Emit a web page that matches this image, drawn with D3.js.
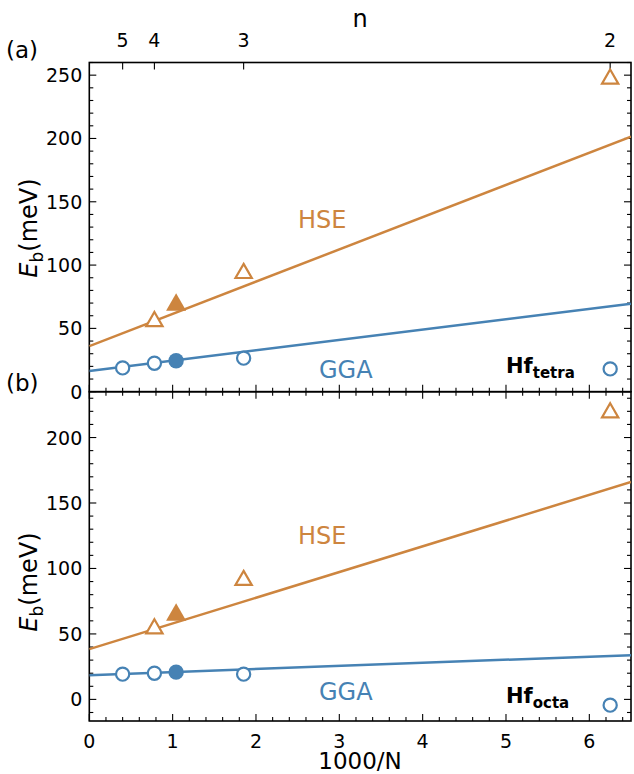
<!DOCTYPE html>
<html><head><meta charset="utf-8">
<script src="https://cdn.jsdelivr.net/npm/d3@7"></script>
<style>body{margin:0;background:#fff}svg{display:block}text{font-family:"DejaVu Sans",sans-serif}</style>
</head><body>
<svg id="c" width="634" height="774"></svg>
<script>
// ---- data ----
const nLabels = ["5","4","3","2"];
const nPos = [0.4, 0.78125, 1.85185, 6.25];
const xOpen = [0.4, 0.78125, 1.85185, 6.25];
const xFilled = [1.0417];
// panel (a) Hf_tetra
const ggaA = [18.8, 22.5, 26.5, 18.0];
const ggaAFilled = [24.4];
const hseA = [55.5, 93.5, 247.0];
const hseAx = [0.78125, 1.85185, 6.25];
const hseAFilled = [68.5];
const ggaFitA = [16.4, 69.4];   // at x = 0 and 6.5
const hseFitA = [36.0, 201.5];
// panel (b) Hf_octa
const ggaB = [19.3, 20.0, 19.3, -4.4];
const ggaBFilled = [20.8];
const hseB = [54.0, 91.0, 219.0];
const hseBx = [0.78125, 1.85185, 6.25];
const hseBFilled = [64.5];
const ggaFitB = [18.5, 33.8];
const hseFitB = [38.4, 166.0];
const fitX = [0, 6.5];
const xTicks = [0,1,2,3,4,5,6];
const yTicksA = [0,50,100,150,200,250];
const yTicksB = [0,50,100,150,200];

const ORANGE = "#cd853f", BLUE = "#4682b4";
const svg = d3.select("#c");
const L = 89.3, R = 631;
const x = d3.scaleLinear().domain([0, 6.5]).range([L, R]);
const yA = d3.scaleLinear().domain([0, 260]).range([391.7, 62.5]);
const yB = d3.scaleLinear().domain([-16.5, 235]).range([721, 391.7]);

function panel(y, yTicks, opts) {
  const g = svg.append("g");
  const [y0, y1] = y.range(); // bottom, top
  const minorY = d3.range(Math.ceil(y.domain()[0]/10)*10, y.domain()[1]+0.01, 10);
  const minorX = d3.range(0, 6.5001, 0.2).map(v => +v.toFixed(2));
  const tk = g.append("g").attr("stroke", "#000");
  minorY.forEach(v => {
    const major = v % 50 === 0;
    const len = major ? 7 : 4;
    tk.append("line").attr("x1", L).attr("x2", L + len).attr("y1", y(v)).attr("y2", y(v)).attr("stroke-width", 1.1);
    tk.append("line").attr("x1", R).attr("x2", R - len).attr("y1", y(v)).attr("y2", y(v)).attr("stroke-width", 1.1);
  });
  minorX.forEach(v => {
    const major = Math.abs(v - Math.round(v)) < 1e-6;
    const len = major ? 7 : 4;
    tk.append("line").attr("x1", x(v)).attr("x2", x(v)).attr("y1", y0).attr("y2", y0 - len).attr("stroke-width", 1.1);
    if (opts.topMinor) tk.append("line").attr("x1", x(v)).attr("x2", x(v)).attr("y1", y1).attr("y2", y1 + len).attr("stroke-width", 1.1);
  });
  if (opts.topN) {
    nPos.forEach(v => tk.append("line").attr("x1", x(v)).attr("x2", x(v)).attr("y1", y1).attr("y2", y1 + 7).attr("stroke-width", 1.1));
    nLabels.forEach((t, i) => g.append("text").attr("x", x(nPos[i])).attr("y", 47).attr("text-anchor", "middle").attr("font-size", 19).text(t));
  }
  yTicks.forEach(v => g.append("text").attr("x", L - 7).attr("y", y(v) + 7).attr("text-anchor", "end").attr("font-size", 19).text(v));
  g.append("rect").attr("x", L).attr("y", y1).attr("width", R - L).attr("height", y0 - y1)
    .attr("fill", "none").attr("stroke", "#000").attr("stroke-width", 1.6);
  const cid = "clip" + opts.id;
  svg.append("clipPath").attr("id", cid).append("rect").attr("x", L).attr("y", y1).attr("width", R - L).attr("height", y0 - y1);
  const pg = g.append("g").attr("clip-path", `url(#${cid})`);
  const line = d3.line().x(d => x(d[0])).y(d => y(d[1]));
  pg.append("path").attr("d", line(fitX.map((v, i) => [v, opts.hseFit[i]]))).attr("stroke", ORANGE).attr("stroke-width", 2.5).attr("fill", "none");
  pg.append("path").attr("d", line(fitX.map((v, i) => [v, opts.ggaFit[i]]))).attr("stroke", BLUE).attr("stroke-width", 2.5).attr("fill", "none");
  const tri = d3.symbol().type(d3.symbolTriangle);
  opts.gga.forEach((v, i) => pg.append("circle").attr("cx", x(xOpen[i])).attr("cy", y(v)).attr("r", 6.6).attr("fill", "#fff").attr("stroke", BLUE).attr("stroke-width", 2.2));
  opts.ggaF.forEach((v, i) => pg.append("circle").attr("cx", x(xFilled[i])).attr("cy", y(v)).attr("r", 7.7).attr("fill", BLUE));
  opts.hse.forEach((v, i) => pg.append("path").attr("d", tri.size(115)()).attr("transform", `translate(${x(opts.hseX[i])},${y(v)})`).attr("fill", "#fff").attr("stroke", ORANGE).attr("stroke-width", 2.2));
  opts.hseF.forEach((v, i) => pg.append("path").attr("d", tri.size(175)()).attr("transform", `translate(${x(xFilled[i])},${y(v)})`).attr("fill", ORANGE));
  g.append("text").attr("x", 298).attr("y", opts.hseLabY).attr("font-size", 24).attr("fill", ORANGE).text("HSE");
  g.append("text").attr("x", 319).attr("y", opts.ggaLabY).attr("font-size", 24).attr("fill", BLUE).text("GGA");
  const hf = g.append("text").attr("x", 506).attr("y", opts.hfY).attr("font-weight", "bold").attr("font-size", 21);
  hf.append("tspan").text("Hf");
  hf.append("tspan").attr("dy", 5).attr("font-size", 15).text(opts.sub);
  const yt = g.append("text").attr("transform", `translate(37,${opts.ytY}) rotate(-90)`).attr("text-anchor", "middle").attr("font-size", 24);
  yt.append("tspan").attr("font-style", "italic").text("E");
  yt.append("tspan").attr("dy", 6).attr("font-size", 17).text("b");
  yt.append("tspan").attr("dy", -6).text("(meV)");
  g.append("text").attr("x", 6).attr("y", opts.labY).attr("font-size", 23).text(opts.tag);
}

panel(yA, yTicksA, {id: "a", tag: "(a)", topN: true, topMinor: false, gga: ggaA, ggaF: ggaAFilled, hse: hseA, hseX: hseAx, hseF: hseAFilled,
  ggaFit: ggaFitA, hseFit: hseFitA, hseLabY: 228, ggaLabY: 378, hfY: 373, sub: "tetra", ytY: 228, labY: 58});
panel(yB, yTicksB, {id: "b", tag: "(b)", topN: false, topMinor: true, gga: ggaB, ggaF: ggaBFilled, hse: hseB, hseX: hseBx, hseF: hseBFilled,
  ggaFit: ggaFitB, hseFit: hseFitB, hseLabY: 544, ggaLabY: 700, hfY: 703, sub: "octa", ytY: 582, labY: 391});

xTicks.forEach(v => svg.append("text").attr("x", x(v)).attr("y", 748).attr("text-anchor", "middle").attr("font-size", 19).text(v));
svg.append("text").attr("x", 360).attr("y", 769).attr("text-anchor", "middle").attr("font-size", 23).text("1000/N");
svg.append("text").attr("x", 360).attr("y", 27).attr("text-anchor", "middle").attr("font-size", 24).text("n");
</script>
</body></html>
